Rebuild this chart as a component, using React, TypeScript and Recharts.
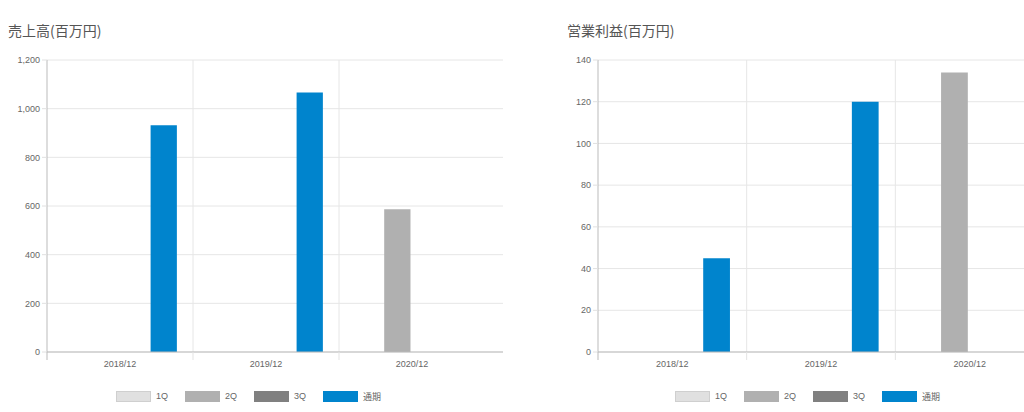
import { BarChart, Bar, XAxis, YAxis, CartesianGrid, Legend } from 'recharts'

const categories = ['2018/12', '2019/12', '2020/12']
const seriesNames = ['1Q', '2Q', '3Q', '通期']
const seriesColors = ['#e0e0e0', '#b0b0b0', '#808080', '#0084cd']

const sales1Q = [null, null, null]
const sales2Q = [null, null, 587]
const sales3Q = [null, null, null]
const salesFull = [932, 1066, null]
const salesTicks = [0, 200, 400, 600, 800, 1000, 1200]

const profit1Q = [null, null, null]
const profit2Q = [null, null, 134]
const profit3Q = [null, null, null]
const profitFull = [45, 120, null]
const profitTicks = [0, 20, 40, 60, 80, 100, 120, 140]

const CHART_W = 504
const CHART_H = 360
const MARGIN = { top: 10, right: 9, left: 0, bottom: 0 }
const X_H = 30
const LEGEND_H = 28
const PAD_R = 18
const AXIS_Y = CHART_H - X_H - LEGEND_H
const FONT = 'Arial, "Liberation Sans", "Noto Sans CJK JP", sans-serif'

const buildRows = (q1: any[], q2: any[], q3: any[], full: any[]) =>
    categories.map((name, i) => ({ name, q1: q1[i], q2: q2[i], q3: q3[i], full: full[i] }))

function LegendContent({ payload }: any) {
    return (
        <div style={{ display: 'flex', justifyContent: 'center', alignItems: 'center', height: LEGEND_H, paddingRight: 14, fontFamily: FONT }}>
            {(payload || []).map((p: any, i: number) => (
                <div key={i} style={{ display: 'flex', alignItems: 'center', marginRight: i < 3 ? 17 : 0 }}>
                    <div style={{ width: 33, height: 9, background: p.color, border: i === 0 ? '1px solid #cfcfcf' : `1px solid ${p.color}` }} />
                    <span style={{ marginLeft: 5, fontSize: 9, color: '#666' }}>{p.value}</span>
                </div>
            ))}
        </div>
    )
}

interface PanelProps {
    title: string
    left: number
    yWidth: number
    ticks: number[]
    format: (v: number) => string
    rows: any[]
}

function Panel({ title, left, yWidth, ticks, format, rows }: PanelProps) {
    const plotW = CHART_W - MARGIN.left - MARGIN.right - yWidth
    const band = (plotW - PAD_R) / categories.length
    const slot = (band * 0.8) / 4
    const barSize = slot * 0.9
    const barGap = slot * 0.1

    const XTick = ({ x, payload }: any) => {
        const bx = x - band / 2
        return (
            <g>
                <line x1={bx} y1={AXIS_Y} x2={bx} y2={AXIS_Y + 8} stroke={payload.index === 0 ? '#bbb' : '#e3e3e3'} />
                <text x={x} y={AXIS_Y + 9} dy="0.71em" textAnchor="middle" fontSize={9} fill="#666" fontFamily={FONT}>
                    {payload.value}
                </text>
            </g>
        )
    }

    return (
        <div style={{ position: 'absolute', left, top: 0, width: CHART_W, height: 412 }}>
            <div style={{ position: 'absolute', left: 0, top: 20, fontSize: 14, color: '#555', fontFamily: '"Noto Sans CJK JP", sans-serif', lineHeight: '20px' }}>
                {title}
            </div>
            <div style={{ position: 'absolute', left: 0, top: 50 }}>
                <BarChart width={CHART_W} height={CHART_H} data={rows} margin={MARGIN} barSize={barSize} barGap={barGap}>
                    <CartesianGrid
                        stroke="#e6e6e6"
                        verticalCoordinatesGenerator={({ offset }: any) =>
                            categories.slice(1).map((_, i) => offset.left + (i + 1) * band)
                        }
                    />
                    <XAxis
                        dataKey="name"
                        height={X_H}
                        padding={{ left: 0, right: PAD_R }}
                        axisLine={{ stroke: '#bbb' }}
                        tickLine={false}
                        tick={<XTick />}
                        interval={0}
                    />
                    <YAxis
                        width={yWidth}
                        domain={[ticks[0], ticks[ticks.length - 1]]}
                        ticks={ticks}
                        tickFormatter={format}
                        axisLine={{ stroke: '#bbb' }}
                        tickLine={{ stroke: '#e0e0e0' }}
                        tickSize={5}
                        tick={{ fontSize: 9, fill: '#666', fontFamily: FONT }}
                    />
                    <Legend verticalAlign="bottom" height={LEGEND_H} content={<LegendContent />} />
                    {seriesNames.map((n, i) => (
                        <Bar key={n} dataKey={['q1', 'q2', 'q3', 'full'][i]} name={n} fill={seriesColors[i]} isAnimationActive={false} />
                    ))}
                </BarChart>
            </div>
        </div>
    )
}

export default function App() {
    return (
        <div style={{ position: 'absolute', left: 0, top: 0, width: 1024, height: 412, overflow: 'hidden', background: '#fff' }}>
            <Panel
                title="売上高(百万円)"
                left={8}
                yWidth={39}
                ticks={salesTicks}
                format={(v) => v.toLocaleString('en-US')}
                rows={buildRows(sales1Q, sales2Q, sales3Q, salesFull)}
            />
            <Panel
                title="営業利益(百万円)"
                left={567}
                yWidth={31}
                ticks={profitTicks}
                format={(v) => String(v)}
                rows={buildRows(profit1Q, profit2Q, profit3Q, profitFull)}
            />
        </div>
    )
}
